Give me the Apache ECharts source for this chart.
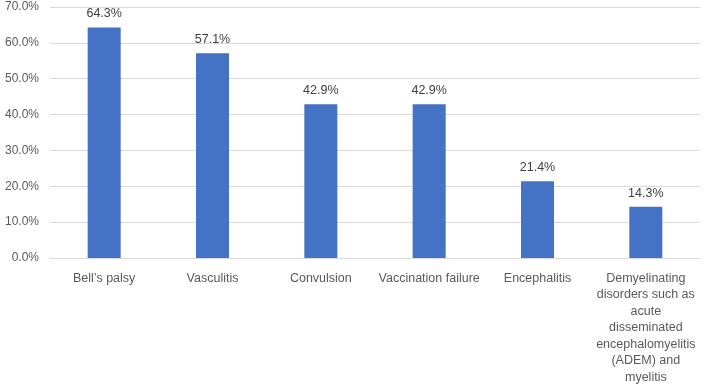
<!DOCTYPE html>
<html>
<head>
<meta charset="utf-8">
<script src="https://cdn.jsdelivr.net/npm/echarts@6/dist/echarts.min.js"></script>
<style>
  html, body { margin: 0; padding: 0; background: #fff; }
  #chart { width: 709px; height: 390px; }
</style>
</head>
<body>
<div id="chart"></div>
<script>
const categories = [
  'Bell\u2019s palsy',
  'Vasculitis',
  'Convulsion',
  'Vaccination failure',
  'Encephalitis',
  'Demyelinating\ndisorders such as\nacute\ndisseminated\nencephalomyelitis\n(ADEM) and\nmyelitis'
];
const values = [64.3, 57.1, 42.9, 42.9, 21.4, 14.3];

const chart = echarts.init(document.getElementById('chart'));
chart.setOption({
  animation: false,
  textStyle: { fontFamily: 'Liberation Sans, Noto Sans, sans-serif' },
  grid: { left: 50, right: 9, top: 7, bottom: 132, containLabel: false },
  xAxis: {
    type: 'category',
    data: categories,
    axisLine: { lineStyle: { color: '#d9d9d9' } },
    axisTick: { show: false },
    axisLabel: {
      color: '#595959',
      fontSize: 12.5,
      lineHeight: 16.5,
      margin: 12,
      interval: 0
    }
  },
  yAxis: {
    type: 'value',
    min: 0,
    max: 70,
    interval: 10,
    axisLine: { show: false },
    axisTick: { show: false },
    splitLine: { lineStyle: { color: '#d9d9d9' } },
    axisLabel: {
      color: '#595959',
      fontSize: 12,
      margin: 11,
      formatter: v => v.toFixed(1) + '%'
    }
  },
  series: [{
    type: 'bar',
    data: values,
    barWidth: 33,
    itemStyle: { color: '#4472C4' },
    label: {
      show: true,
      position: 'top',
      color: '#404040',
      fontSize: 12.5,
      distance: 7,
      formatter: p => p.value.toFixed(1) + '%'
    }
  }]
});
</script>
</body>
</html>
